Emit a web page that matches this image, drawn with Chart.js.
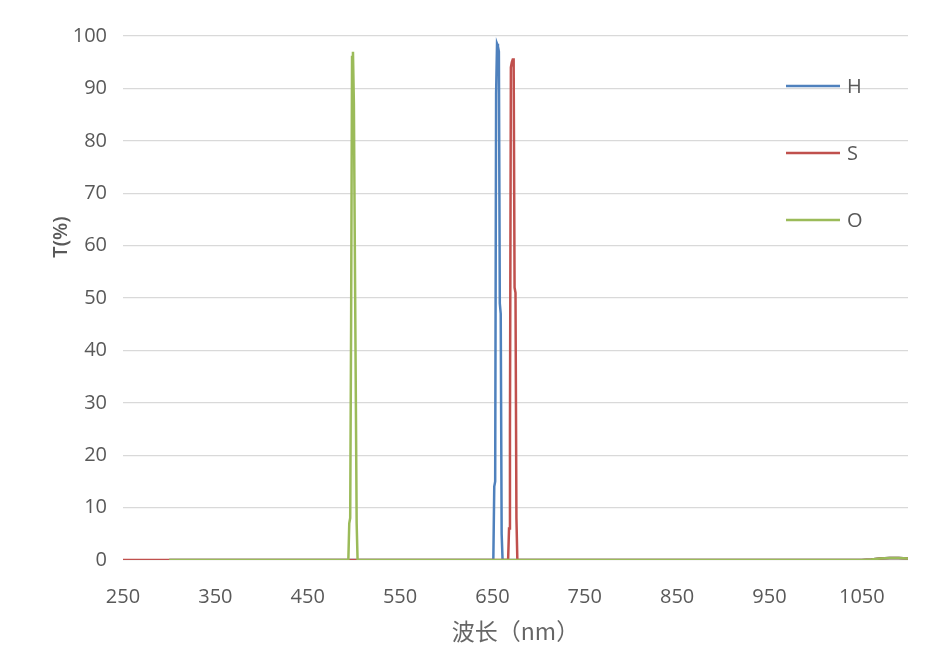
<!DOCTYPE html>
<html>
<head>
<meta charset="utf-8">
<script src="https://cdn.jsdelivr.net/npm/chart.js@4"></script>
<style>
  body { margin: 0; background: #fff; }
  #wrap { width: 936px; height: 657px; }
</style>
</head>
<body>
<div id="wrap"><canvas id="chart"></canvas></div>
<script>
// wavelength (nm) / transmission (%)
var h_nm = [300, 500, 651, 652, 653, 654, 655, 656, 657, 658, 659, 660, 661, 800, 1050, 1060, 1070, 1080, 1090, 1100];
var h_t  = [0,   0,   0,   14,  15,  89,  98.5, 98, 97,  49,  47,  5,   0,   0,   0,    0.1,  0.3,  0.4,  0.4,  0.3];

var s_nm = [250, 500, 667, 668, 669, 670, 671, 672, 673, 674, 675, 676, 677, 800, 1050, 1060, 1070, 1080, 1090, 1100];
var s_t  = [0,   0,   0,   6,   25,  94,  95,  95.5, 95.5, 52, 51,  8,   0,   0,   0,    0.1,  0.3,  0.4,  0.4,  0.3];

var o_nm = [300, 494, 495, 496, 497, 498, 499, 500, 501, 502, 503, 504, 800, 1050, 1060, 1070, 1080, 1090, 1100];
var o_t  = [0,   0,   7,   8,   45,  96,  97,  87,  60,  34,  7,   0,   0,   0,    0.1,  0.3,  0.4,  0.4,  0.3];

var series_names = ["H", "S", "O"];
var x_ticks = [250, 350, 450, 550, 650, 750, 850, 950, 1050];
var y_ticks = [0, 10, 20, 30, 40, 50, 60, 70, 80, 90, 100];

var colors = ["#4f81bd", "#c0504d", "#9bbb59"];

function to_points(xs, ys) {
  return xs.map(function (x, i) { return { x: x, y: ys[i] }; });
}

// legend drawn inside the plot, top right, like the original,
// plus the y title which sits above the middle of the axis
var extras = {
  id: 'extras',
  afterDraw: function (chart) {
    var ctx = chart.ctx;
    ctx.save();
    ctx.font = '20px "Open Sans"';
    ctx.textBaseline = 'middle';
    ctx.fillStyle = '#595959';
    series_names.forEach(function (name, i) {
      var y = 86 + i * 67;
      ctx.strokeStyle = colors[i];
      ctx.lineWidth = 2.5;
      ctx.beginPath();
      ctx.moveTo(786, y);
      ctx.lineTo(840, y);
      ctx.stroke();
      ctx.fillText(name, 847, y + 1);
    });

    ctx.translate(61, 237);
    ctx.rotate(-Math.PI / 2);
    ctx.textAlign = 'center';
    ctx.font = '600 20px "Open Sans"';
    ctx.fillText('T(%)', 0, 0);
    ctx.restore();
  }
};

var datasets = [
  { label: "H", data: to_points(h_nm, h_t), order: 2 },
  { label: "S", data: to_points(s_nm, s_t), order: 1 },
  { label: "O", data: to_points(o_nm, o_t), order: 0 }
].map(function (d, i) {
  d.borderColor = colors[i];
  d.backgroundColor = colors[i];
  d.borderWidth = 2.5;
  d.pointRadius = 0;
  d.tension = 0;
  d.fill = false;
  return d;
});

new Chart(document.getElementById("chart"), {
  type: 'line',
  data: { datasets: datasets },
  plugins: [extras],
  options: {
    responsive: true,
    maintainAspectRatio: false,
    animation: false,
    layout: { padding: { top: 36, right: 28, left: 0, bottom: 0 } },
    plugins: {
      legend: { display: false },
      tooltip: { enabled: false }
    },
    scales: {
      x: {
        type: 'linear',
        min: 250,
        max: 1100,
        afterBuildTicks: function (scale) {
          scale.ticks = x_ticks.map(function (v) { return { value: v }; });
        },
        afterFit: function (scale) { scale.height = 97; },
        grid: { display: false },
        border: { display: false },
        ticks: {
          padding: 17,
          color: '#595959',
          font: { family: '"Open Sans"', size: 20 },
          maxRotation: 0,
          autoSkip: false,
          callback: function (v) { return String(v); }
        },
        title: {
          display: true,
          text: '波长（nm）',
          color: '#666666',
          font: { family: '"Noto Sans CJK SC"', size: 23 },
          padding: { top: 0, bottom: 12 }
        }
      },
      y: {
        min: 0,
        max: 100,
        afterBuildTicks: function (scale) {
          scale.ticks = y_ticks.map(function (v) { return { value: v }; });
        },
        afterFit: function (scale) { scale.width = 123; },
        grid: { color: '#d9d9d9', lineWidth: 1.3, drawTicks: false },
        border: { display: false },
        ticks: {
          padding: 16,
          color: '#595959',
          font: { family: '"Open Sans"', size: 20 }
        }
      }
    }
  }
});
</script>
</body>
</html>
